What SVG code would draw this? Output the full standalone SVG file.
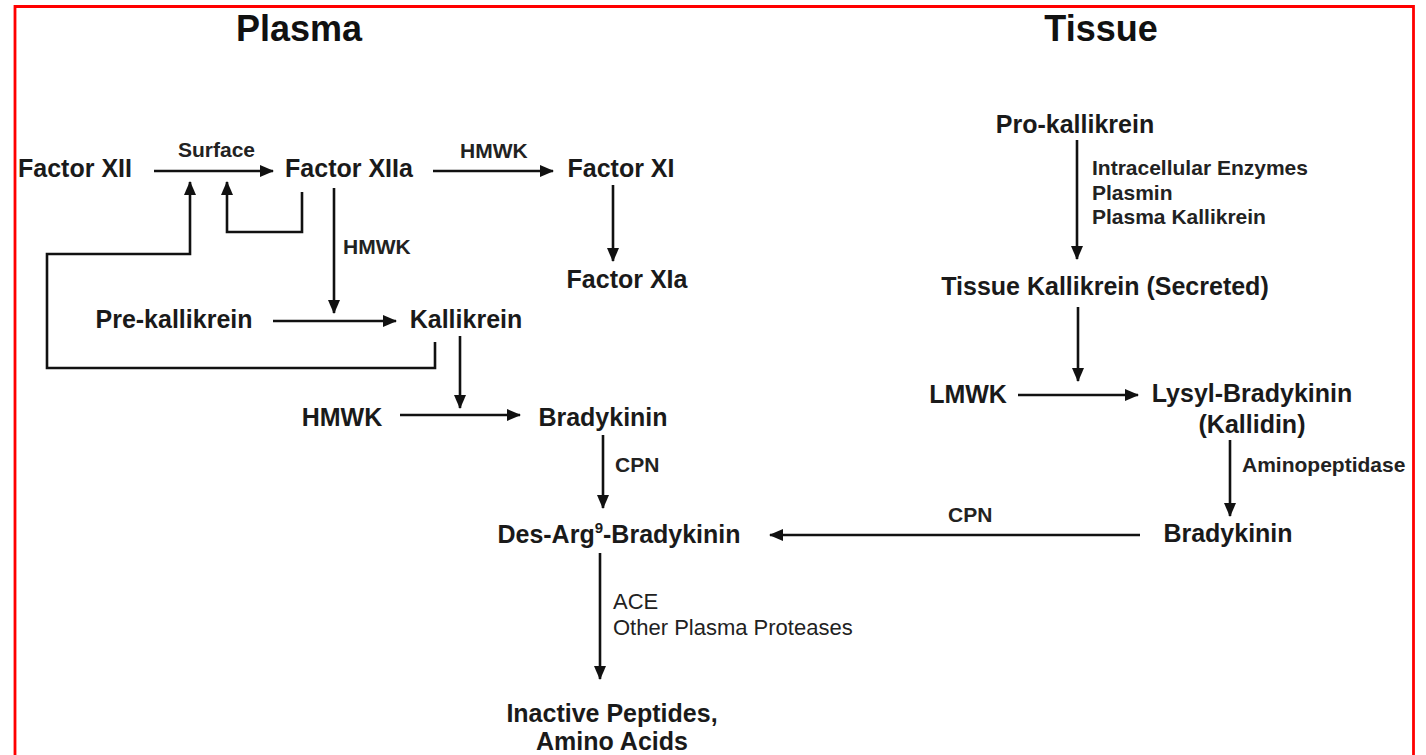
<svg xmlns="http://www.w3.org/2000/svg" width="1426" height="755" viewBox="0 0 1426 755">
  <defs>
    <marker id="arrow" markerUnits="userSpaceOnUse" markerWidth="14" markerHeight="12" refX="13" refY="6" orient="auto">
      <path d="M0,0 L14,6 L0,12 Z" fill="#111"/>
    </marker>
    <style>
      .title { font-family: "Liberation Sans", Arial, sans-serif; font-weight: bold; font-size: 36px; fill: #111; text-anchor: middle; }
      .node { font-family: "Liberation Sans", Arial, sans-serif; font-weight: bold; font-size: 25px; fill: #1a1a1a; text-anchor: middle; }
      .lbl { font-family: "Liberation Sans", Arial, sans-serif; font-weight: bold; font-size: 21px; fill: #222; }
      .lblr { font-family: "Liberation Sans", Arial, sans-serif; font-size: 22px; fill: #222; }
      .edge { fill: none; stroke: #111; stroke-width: 2.6; }
      .arr { marker-end: url(#arrow); }
    </style>
  </defs>

  <rect x="0" y="0" width="1426" height="755" fill="#fff"/>
  <!-- outer red frame, open at the bottom edge -->
  <path d="M15,760 V6.5 H1413.5 V760" fill="none" stroke="#f00" stroke-width="2.8"/>

  <text class="title" x="299" y="41">Plasma</text>
  <text class="title" x="1101" y="41">Tissue</text>

  <!-- connectors -->
  <g id="connectors">
    <path class="edge arr" d="M154,171 H273"/>
    <path class="edge arr" d="M302,192 V232 H227 V182"/>
    <path class="edge arr" d="M435,342 V368 H47 V254 H190 V182"/>
    <path class="edge arr" d="M334,188 V313"/>
    <path class="edge arr" d="M273,321 H396"/>
    <path class="edge arr" d="M433,171 H553"/>
    <path class="edge arr" d="M613,185 V261"/>
    <path class="edge arr" d="M460,336 V408"/>
    <path class="edge arr" d="M400,415 H520"/>
    <path class="edge arr" d="M603,435 V508"/>
    <path class="edge arr" d="M1140,535 H770"/>
    <path class="edge arr" d="M600,553 V679"/>
    <path class="edge arr" d="M1077,140 V259"/>
    <path class="edge arr" d="M1078,307 V381"/>
    <path class="edge arr" d="M1018,395 H1138"/>
    <path class="edge arr" d="M1230,440 V516"/>

    <text class="lbl" x="178" y="157">Surface</text>
    <text class="lbl" x="460" y="158">HMWK</text>
    <text class="lbl" x="343" y="254">HMWK</text>
    <text class="lbl" x="615" y="472">CPN</text>
    <text class="lbl" x="948" y="522">CPN</text>
    <text class="lblr" x="613" y="609">ACE</text>
    <text class="lblr" x="613" y="635">Other Plasma Proteases</text>
    <text class="lbl" x="1092" y="175">Intracellular Enzymes</text>
    <text class="lbl" x="1092" y="200">Plasmin</text>
    <text class="lbl" x="1092" y="224">Plasma Kallikrein</text>
    <text class="lbl" x="1242" y="472">Aminopeptidase</text>
  </g>

  <!-- plasma cascade -->
  <g id="factor-xii"><text class="node" x="75" y="177">Factor XII</text></g>
  <g id="factor-xiia"><text class="node" x="349" y="177">Factor XIIa</text></g>
  <g id="factor-xi"><text class="node" x="621" y="177">Factor XI</text></g>
  <g id="factor-xia"><text class="node" x="627" y="288">Factor XIa</text></g>
  <g id="pre-kallikrein"><text class="node" x="174" y="328">Pre-kallikrein</text></g>
  <g id="kallikrein"><text class="node" x="466" y="328">Kallikrein</text></g>
  <g id="hmwk"><text class="node" x="342" y="426">HMWK</text></g>
  <g id="bradykinin-plasma"><text class="node" x="603" y="426">Bradykinin</text></g>
  <g id="des-arg-bradykinin"><text class="node" x="619" y="543">Des-Arg<tspan font-size="15" dy="-10">9</tspan><tspan dy="10">-Bradykinin</tspan></text></g>
  <g id="inactive-peptides">
    <text class="node" x="612" y="722">Inactive Peptides,</text>
    <text class="node" x="612" y="750">Amino Acids</text>
  </g>

  <!-- tissue cascade -->
  <g id="pro-kallikrein"><text class="node" x="1075" y="133">Pro-kallikrein</text></g>
  <g id="tissue-kallikrein"><text class="node" x="1105" y="295">Tissue Kallikrein (Secreted)</text></g>
  <g id="lmwk"><text class="node" x="968" y="403">LMWK</text></g>
  <g id="lysyl-bradykinin">
    <text class="node" x="1252" y="402">Lysyl-Bradykinin</text>
    <text class="node" x="1252" y="433">(Kallidin)</text>
  </g>
  <g id="bradykinin-tissue"><text class="node" x="1228" y="542">Bradykinin</text></g>
</svg>
